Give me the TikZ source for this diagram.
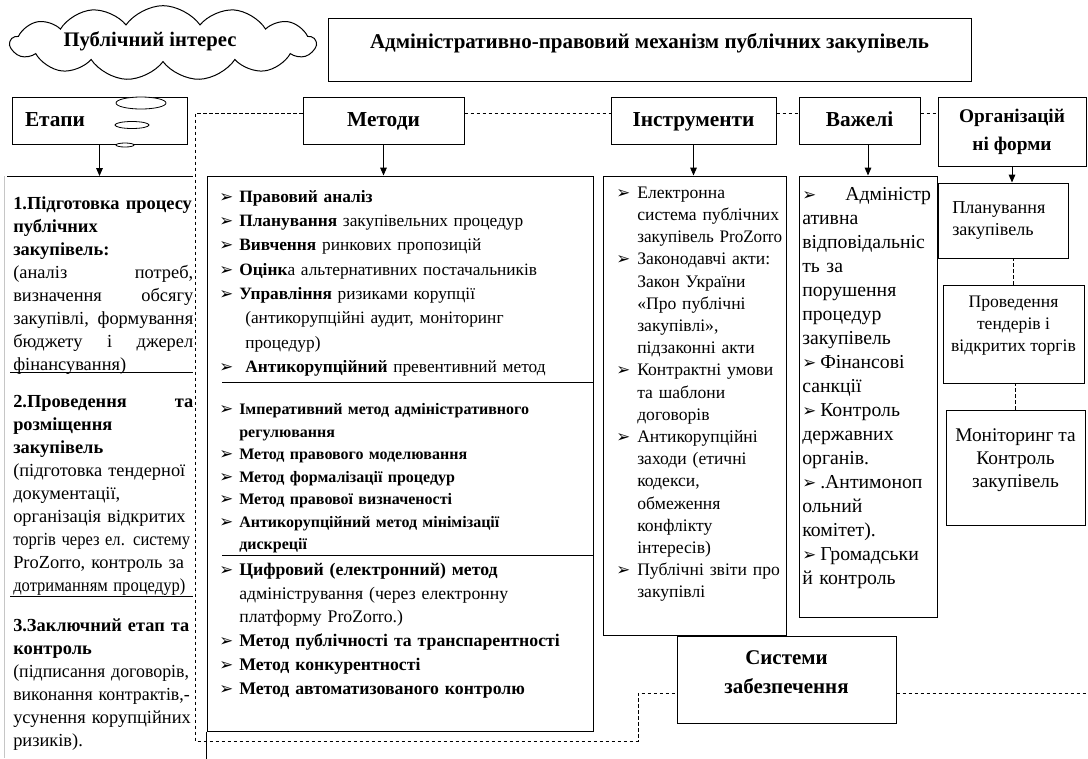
\documentclass[tikz,border=0pt]{standalone}
\usepackage{fontspec}
\usepackage{graphicx}
\setmainfont{Liberation Serif}
\newfontfamily\dv{DejaVu Sans}
\usetikzlibrary{shapes.symbols,shapes.geometric,arrows.meta}
\newcommand\fs[2]{\fontsize{#1}{#2}\selectfont}
\newcommand\bulw[1]{\makebox[#1][l]{\dv\fontsize{12.5}{10}\selectfont ➢}}
\newcommand\bm{\bulw{15pt}}
\newcommand\bi{\bulw{15.75pt}}
\newcommand\ii{\hspace*{15.75pt}}
\newcommand\jl[1]{\makebox[135pt][l]{#1}}
\newcommand\bh[1]{{\bfseries #1}}
\newcommand\rz[2]{\resizebox{#1}{\height}{#2}}
\newcommand\cz[2]{\scalebox{#1}[1]{#2}}
\begin{document}
\begin{tikzpicture}[x=0.75pt,y=-0.75pt,
  bx/.style={draw, line width=0.75pt, inner sep=0pt},
  hdr/.style={bx, font=\bfseries\fs{16}{19}, minimum height=35.25pt, text height=11.8pt, text depth=3pt},
  arr/.style={-{Triangle[length=6pt,width=5pt]}, line width=0.75pt},
  dsh/.style={line width=0.6pt, dash pattern=on 2.5pt off 2pt},
  txt/.style={inner sep=0pt, anchor=north west, align=left},
  sep/.style={line width=0.75pt},
  bub/.style={draw, ellipse, line width=0.6pt, fill=white, inner sep=0pt}]
\useasboundingbox (0,0) rectangle (1088,758);

% cloud
\node[bx, shape=cloud, cloud puffs=13, cloud puff arc=110, cloud ignores aspect,
  minimum width=228.75pt, minimum height=56pt] (cloud) at (163,43) {};
\node[font=\bfseries\fs{15.5}{18}, inner sep=0pt] (cloudT) at (150,41) {Публічний інтерес};

% title
\node[bx, minimum width=482.25pt, minimum height=47.25pt] (title) at (649.5,49.5) {};
\node[font=\bfseries\fs{15.75}{18}, inner sep=0pt] (titleT) at (649.5,43)
  {Адміністративно-правовий механізм публічних закупівель};

% headers
\node[hdr, minimum width=131.25pt, text width=111.75pt, inner xsep=9.75pt, align=left] (etapy) at (99.5,120.5) {Етапи};
\node[hdr, minimum width=120.75pt] (metody) at (383.5,120.5) {Методи};
\node[hdr, minimum width=123.75pt] (instr) at (693.5,120.5) {Інструменти};
\node[hdr, minimum width=90.75pt] (vazheli) at (859.5,120.5) {Важелі};
\node[bx, minimum width=111pt, minimum height=51.75pt, align=center, font=\bfseries\fs{14.5}{21}] (org) at (1012,132) {Організацій\\ні форми};

% thought bubbles
\node[bub, minimum width=37.5pt, minimum height=9pt] (bub1) at (141,103) {};
\node[bub, minimum width=25.5pt, minimum height=5.25pt] (bub2) at (132,125) {};
\node[bub, minimum width=13.5pt, minimum height=3pt] (bub3) at (125,145) {};

% content boxes
\node[bx, minimum width=289.5pt, minimum height=416.25pt] (metC) at (400,453.5) {};
\node[bx, minimum width=137.25pt, minimum height=344.25pt] (instC) at (694.5,405.5) {};
\node[bx, minimum width=103.5pt, minimum height=330.75pt] (vazC) at (868,396.5) {};
\node[bx, minimum width=97.5pt, minimum height=56.25pt] (plan) at (1003,220.5) {};
\node[bx, minimum width=105.75pt, minimum height=73.5pt] (prov) at (1013.5,334) {};
\node[bx, minimum width=104.25pt, minimum height=86.25pt] (monit) at (1015.5,467.5) {};
\node[bx, minimum width=164.25pt, minimum height=65.25pt] (syst) at (786.5,679.5) {};

% left column lines
\coordinate (colLtop) at (7,176);
\coordinate (colLtopR) at (193,176);
\coordinate (L1a) at (10,372);
\coordinate (L1b) at (193,372);
\coordinate (L2a) at (10,596);
\coordinate (L2b) at (193,596);
\draw[sep] (colLtop) -- (colLtopR);
\draw[sep] (L1a) -- (L1b);
\draw[sep] (L2a) -- (L2b);
\draw[gray!45, line width=0.5pt] (4,176) -- (4,758);

% methods separators and extension
\coordinate (m1) at (222,382);
\coordinate (m2) at (222,555);
\draw[sep] (m1) -- (m1 -| metC.east);
\draw[sep] (m2) -- (m2 -| metC.east);
\draw[sep] (metC.south west) -- ++(0,27);

% arrows
\draw[arr] (etapy.south) -- (etapy.south |- colLtop);
\draw[arr] (metody.south) -- (metody.south |- metC.north);
\draw[arr] (instr.south) -- (instr.south |- instC.north);
\draw[arr] (vazheli.south -| vazC.north) -- (vazC.north);
\draw[arr] (org.south) -- (org.south |- plan.north);

% dashed connectors
\coordinate (dA) at (195,113);
\coordinate (dB) at (195,741);
\coordinate (dC) at (638,741);
\coordinate (dD) at (638,693);
\coordinate (sL) at (syst.west |- dD);
\coordinate (sR) at (syst.east |- dD);
\coordinate (eR) at (1088,693);
\draw[dsh] (metody.west |- dA) -- (dA) -- (dB) -- (dC) -- (dD) -- (sL);
\draw[dsh] (sR) -- (eR);
\draw[dsh] (metody.east |- dA) -- (instr.west |- dA);
\draw[dsh] (instr.east |- dA) -- (vazheli.west |- dA);
\draw[dsh] (vazheli.east |- dA) -- (org.west |- dA);
\draw[dsh] (prov.north) -- (prov.north |- plan.south);
\draw[dsh] (monit.north) -- (monit.north |- prov.south);

% left column texts
\node[txt, text width=160pt, font=\fs{13.8}{17.25}] (s1) at (13,193.1) {%
\strut\bh{\rz{134pt}{1.Підготовка процесу}}\\
\bh{публічних}\\
\bh{закупівель:}\\
\jl{(аналіз\hfill потреб,}\\
\jl{визначення\hfill обсягу}\\
\jl{закупівлі,\hfill формування}\\
\jl{бюджету\hfill і\hfill джерел}\\
фінансування)};
\node[txt, text width=160pt, font=\fs{13.8}{17.25}] (s2) at (13,391.1) {%
\strut\bh{\jl{2.Проведення\hfill та}}\\
\bh{розміщення}\\
\bh{закупівель}\\
(підготовка тендерної\\
документації,\\
організація відкритих\\
\cz{0.9}{торгів через ел. систему}\\
ProZorro, контроль за\\
\cz{0.9}{дотриманням процедур)}};
\node[txt, text width=160pt, font=\fs{13.8}{17.25}] (s3) at (13,615.1) {%
\strut\bh{\rz{132pt}{3.Заключний етап та}}\\
\bh{контроль}\\
\cz{0.97}{(підписання договорів,}\\
\cz{0.97}{виконання контрактів,-}\\
усунення корупційних\\
ризиків).};

% methods texts
\node[txt, text width=290pt, font=\fs{13}{18.225}] (mA) at (219,185) {%
\strut\bm\textbf{Правовий аналіз}\\
\bm\textbf{Планування} закупівельних процедур\\
\bm\textbf{Вивчення} ринкових пропозицій\\
\bm\textbf{Оцінк}а альтернативних постачальників\\
\bm\textbf{Управління} ризиками корупції\\
\hspace*{19.5pt}(антикорупційні аудит, моніторинг\\
\hspace*{19.5pt}процедур)\\
\bm\hspace*{4.5pt}\textbf{Антикорупційний} превентивний метод};
\node[txt, text width=290pt, font=\bfseries\fs{12}{16.875}] (mB) at (219,398.75) {%
\strut\bm Імперативний метод адміністративного\\
\hspace*{15pt}регулювання\\
\bm Метод правового моделювання\\
\bm Метод формалізації процедур\\
\bm Метод правової визначеності\\
\bm Антикорупційний метод мінімізації\\
\hspace*{15pt}дискреції};
\node[txt, text width=290pt, font=\fs{13.3}{17.85}] (mC) at (219,558.3) {%
\strut\bm\textbf{Цифровий (електронний) метод}\\
\hspace*{15pt}адміністрування (через електронну\\
\hspace*{15pt}платформу ProZorro.)\\
\bm\textbf{Метод публічності та транспарентності}\\
\bm\textbf{Метод конкурентності}\\
\bm\textbf{Метод автоматизованого контролю}};

% instruments text
\node[txt, text width=150pt, font=\fs{13.2}{16.65}] (iT) at (616,182.5) {%
\strut\bi Електронна\\
\ii система публічних\\
\ii \cz{0.97}{закупівель ProZorro}\\
\bi Законодавчі акти:\\
\ii Закон України\\
\ii «Про публічні\\
\ii закупівлі»,\\
\ii підзаконні акти\\
\bi Контрактні умови\\
\ii та шаблони\\
\ii договорів\\
\bi Антикорупційні\\
\ii заходи (етичні\\
\ii кодекси,\\
\ii обмеження\\
\ii конфлікту\\
\ii інтересів)\\
\bi Публічні звіти про\\
\ii закупівлі};

% levers text
\node[txt, text width=120pt, font=\fs{14.8}{18}] (vT) at (802,183.2) {%
\strut\bulw{32.25pt}Адміністр\\
ативна\\
відповідальніс\\
ть за\\
порушення\\
процедур\\
закупівель\\
\bulw{13.5pt}Фінансові\\
санкції\\
\bulw{13.5pt}Контроль\\
державних\\
органів.\\
\bulw{13.5pt}.Антимоноп\\
ольний\\
комітет).\\
\bulw{13.5pt}Громадськи\\
й контроль};

% organisational forms texts
\node[txt, anchor=west, text width=90pt, font=\fs{13.6}{16.5}] (planT) at (952,221) {Планування\\закупівель};
\node[inner sep=0pt, align=center, font=\fs{13.2}{16.5}] (provT) at (1013.5,326) {Проведення\\тендерів і\\відкритих торгів};
\node[inner sep=0pt, align=center, font=\fs{14.5}{17.25}] (monitT) at (1015.5,460) {Моніторинг та\\Контроль\\закупівель};

% systems text
\node[inner sep=0pt, align=center, font=\bfseries\fs{15.7}{21.75}] (systT) at (786.5,672.5) {Системи\\забезпечення};
\end{tikzpicture}
\end{document}
